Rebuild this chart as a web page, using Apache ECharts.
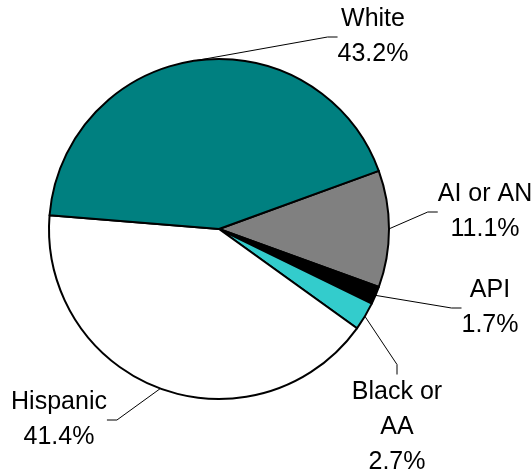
<!DOCTYPE html>
<html>
<head>
<meta charset="utf-8">
<script src="https://cdn.jsdelivr.net/npm/echarts@6/dist/echarts.min.js"></script>
<style>
  html, body { margin: 0; padding: 0; background: #fff; }
  #chart { width: 532px; height: 474px; }
</style>
</head>
<body>
<div id="chart"></div>
<script>
// slices, clockwise from the White / AI boundary
const categories = ['AI or AN', 'API', 'Black or AA', 'Hispanic', 'White'];
const labelText = ['AI or AN', 'API', 'Black or\nAA', 'Hispanic', 'White'];
const shares = [11.1, 1.7, 2.7, 41.4, 43.2];
const colors = ['#808080', '#000000', '#33CCCC', '#FFFFFF', '#008080'];

// where each label block sits (centre of text)
const labelPos = [[485, 212], [490, 308], [397, 427], [59, 420], [373, 37]];

const chart = echarts.init(document.getElementById('chart'));

const options = {
  animation: false,
  series: [
    {
      type: 'pie',
      center: [219, 229],
      radius: 170,
      startAngle: 20,
      clockwise: true,
      avoidLabelOverlap: false,
      itemStyle: {
        borderColor: '#000',
        borderWidth: 2
      },
      label: {
        show: true,
        position: 'outside',
        color: '#000',
        fontFamily: 'Liberation Sans, Arial, sans-serif',
        fontSize: 25,
        lineHeight: 35,
        align: 'center',
        formatter: p => labelText[p.dataIndex] + '\n' + shares[p.dataIndex].toFixed(1) + '%'
      },
      labelLine: {
        show: true,
        length: 20,
        length2: 10,
        lineStyle: { color: '#000', width: 1 }
      },
      labelLayout: p => ({
        x: labelPos[p.dataIndex][0],
        y: labelPos[p.dataIndex][1],
        align: 'center',
        verticalAlign: 'middle'
      }),
      data: categories.map((name, i) => ({
        name,
        value: shares[i],
        itemStyle: { color: colors[i] }
      }))
    }
  ]
};

chart.setOption(options);
</script>
</body>
</html>
